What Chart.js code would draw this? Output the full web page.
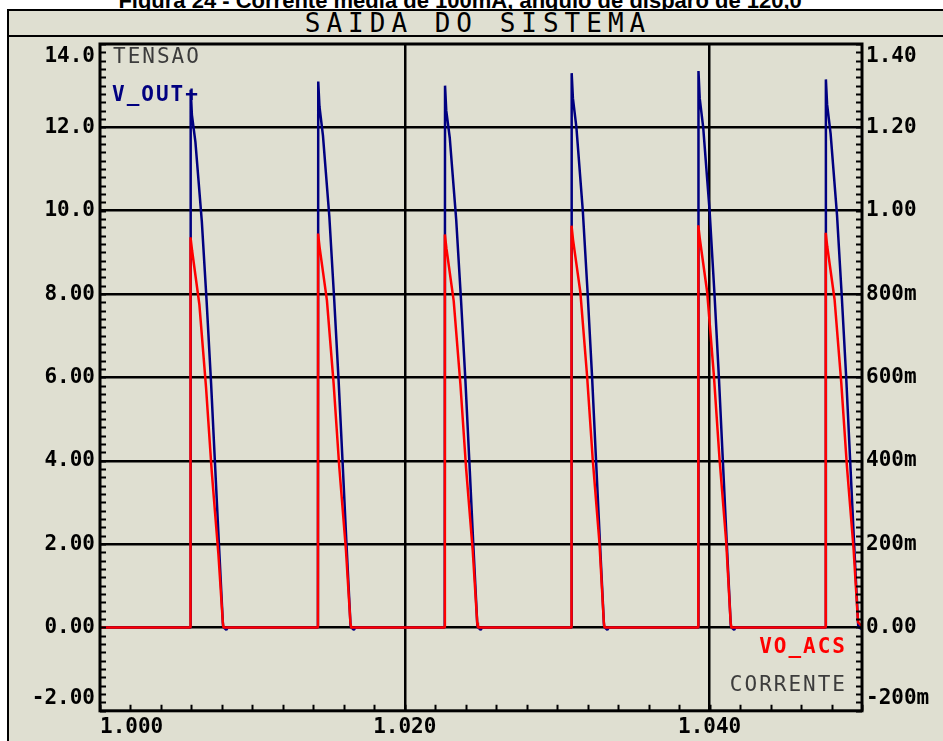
<!DOCTYPE html>
<html>
<head>
<meta charset="utf-8">
<script src="https://cdn.jsdelivr.net/npm/chart.js@4.4.1/dist/chart.umd.min.js"></script>
<style>
  html, body { margin: 0; padding: 0; background: #fff; overflow: hidden; }
  #wrap { position: relative; width: 943px; height: 741px; overflow: hidden; background: #fff; }
  #fig { position: absolute; left: -7px; top: -12px; width: 943px; text-align: center; line-height: 22px;
         font: bold 22px "Liberation Sans", Arial, sans-serif; color: #000; white-space: nowrap; }
  #frame { position: absolute; left: 7px; top: 9px; width: 950px; height: 750px; background: #dfdfd1;
           border: 2px solid #000; box-sizing: border-box; }
  #head { position: absolute; left: 7px; top: 9px; width: 950px; height: 28px; box-sizing: border-box;
          border-bottom: 2px solid #000; text-align: center; padding-left: 6px; padding-right: 14px;
          font: 26px "DejaVu Sans Mono", monospace; letter-spacing: 6px; line-height: 28px; color: #000; }
  #c { position: absolute; left: 0; top: 0; }
</style>
</head>
<body>
<div id="wrap">
  <div id="fig">Figura 24 - Corrente média de 100mA, ângulo de disparo de 120,0°</div>
  <div id="frame"></div>
  <div id="head">SAIDA DO SISTEMA</div>
  <canvas id="c" width="943" height="741"></canvas>
</div>
<script>
// tick labels
const timeLabels = ['1.000', '1.020', '1.040'];
const voltLabels = ['-2.00', '0.00', '2.00', '4.00', '6.00', '8.00', '10.0', '12.0', '14.0'];
const ampLabels = ['-200m', '0.00', '200m', '400m', '600m', '800m', '1.00', '1.20', '1.40'];

// V_OUT+ (TENSAO, left axis) - time in s, volts
const voutT = [
  1.00000,
  1.00593, 1.00595, 1.00603, 1.00626, 1.00668, 1.00700, 1.00729, 1.00755, 1.00781, 1.00807, 1.00811, 1.00829, 1.00839,
  1.01430, 1.01432, 1.01440, 1.01463, 1.01505, 1.01537, 1.01566, 1.01592, 1.01618, 1.01644, 1.01648, 1.01666, 1.01676,
  1.02262, 1.02264, 1.02272, 1.02295, 1.02337, 1.02369, 1.02398, 1.02424, 1.02450, 1.02476, 1.02480, 1.02498, 1.02508,
  1.03093, 1.03095, 1.03103, 1.03126, 1.03168, 1.03200, 1.03229, 1.03255, 1.03281, 1.03307, 1.03311, 1.03329, 1.03339,
  1.03925, 1.03927, 1.03935, 1.03958, 1.04000, 1.04032, 1.04061, 1.04087, 1.04113, 1.04139, 1.04143, 1.04161, 1.04171,
  1.04761, 1.04763, 1.04771, 1.04794, 1.04836, 1.04868, 1.04897, 1.04923, 1.04949, 1.04975, 1.04979, 1.05000
];
const voutV = [
  0,
  0, 12.9, 12.3, 11.65, 9.75, 7.8, 5.85, 3.9, 1.95, 0.05, 0, -0.06, 0,
  0, 13.1, 12.5, 11.8, 9.85, 7.85, 5.9, 3.95, 1.95, 0.05, 0, -0.06, 0,
  0, 13.0, 12.4, 11.75, 9.8, 7.85, 5.9, 3.95, 1.95, 0.05, 0, -0.06, 0,
  0, 13.3, 12.7, 12.0, 10.0, 8.0, 6.0, 4.0, 2.0, 0.05, 0, -0.06, 0,
  0, 13.35, 12.7, 12.0, 10.0, 8.0, 6.0, 4.0, 2.0, 0.05, 0, -0.06, 0,
  0, 13.15, 12.55, 11.85, 9.9, 7.9, 5.95, 3.95, 1.95, 0.05, 0, -0.04
];

// VO_ACS (CORRENTE, right axis) - time in s, amperes
const acsT = [
  1.00000,
  1.00593, 1.00594, 1.00604, 1.00652, 1.00696, 1.00733, 1.00777, 1.00806, 1.00811,
  1.01430, 1.01431, 1.01441, 1.01489, 1.01533, 1.01570, 1.01614, 1.01643, 1.01648,
  1.02262, 1.02263, 1.02273, 1.02321, 1.02365, 1.02402, 1.02446, 1.02475, 1.02480,
  1.03093, 1.03094, 1.03104, 1.03152, 1.03196, 1.03233, 1.03277, 1.03306, 1.03311,
  1.03925, 1.03926, 1.03936, 1.03984, 1.04028, 1.04065, 1.04109, 1.04138, 1.04143,
  1.04761, 1.04762, 1.04772, 1.04820, 1.04864, 1.04901, 1.04945, 1.04974, 1.05000
];
const acsI = [
  0,
  0, 0.936, 0.905, 0.775, 0.575, 0.375, 0.175, 0.012, 0,
  0, 0.945, 0.912, 0.785, 0.585, 0.385, 0.185, 0.012, 0,
  0, 0.943, 0.910, 0.783, 0.583, 0.383, 0.183, 0.012, 0,
  0, 0.964, 0.930, 0.804, 0.604, 0.404, 0.204, 0.012, 0,
  0, 0.965, 0.932, 0.805, 0.605, 0.405, 0.205, 0.012, 0,
  0, 0.947, 0.914, 0.787, 0.587, 0.387, 0.187, 0.012, 0.003
];

const BLUE = '#000080';
const RED = '#ff0000';
const TICK_FONT = { family: '"DejaVu Sans Mono", monospace', size: 21, weight: 'bold', lineHeight: 1.2 };

function isMajor(v, step) {
  const r = v / step;
  return Math.abs(r - Math.round(r)) < 1e-6;
}

// plot frame, inward minor ticks and the in-plot labels
const scopePlugin = {
  id: 'scope',
  beforeInit(chart) { chart.ctx.letterSpacing = '1.5px'; },
  afterDatasetsDraw(chart) {
    const { ctx, chartArea: a, scales } = chart;
    ctx.save();
    ctx.strokeStyle = '#000';
    ctx.lineWidth = 2;
    ctx.beginPath();
    scales.y.ticks.forEach(t => {
      const y = Math.round(scales.y.getPixelForValue(t.value)) + 0.5;
      ctx.moveTo(a.left, y); ctx.lineTo(a.left + 6, y);
    });
    scales.y1.ticks.forEach(t => {
      const y = Math.round(scales.y1.getPixelForValue(t.value)) + 0.5;
      ctx.moveTo(a.right - 6, y); ctx.lineTo(a.right, y);
    });
    scales.x.ticks.forEach(t => {
      const x = Math.round(scales.x.getPixelForValue(t.value)) + 0.5;
      ctx.moveTo(x, a.bottom); ctx.lineTo(x, a.bottom - 6);
    });
    ctx.stroke();
    ctx.lineWidth = 3;
    ctx.strokeRect(a.left, a.top, a.right - a.left, a.bottom - a.top);

    ctx.letterSpacing = '2px';
    ctx.textBaseline = 'middle';
    ctx.textAlign = 'left';
    ctx.font = '21px "DejaVu Sans Mono", monospace';
    ctx.fillStyle = '#3c3c3c';
    ctx.fillText('TENSAO', a.left + 13, a.top + 14);
    ctx.font = 'bold 21px "DejaVu Sans Mono", monospace';
    ctx.fillStyle = BLUE;
    ctx.fillText('V_OUT+', a.left + 12, a.top + 52);
    ctx.textAlign = 'right';
    ctx.fillStyle = RED;
    ctx.fillText('VO_ACS', a.right - 15, a.bottom - 63);
    ctx.font = '21px "DejaVu Sans Mono", monospace';
    ctx.fillStyle = '#3c3c3c';
    ctx.fillText('CORRENTE', a.right - 15, a.bottom - 25);
    ctx.restore();
  }
};

new Chart(document.getElementById('c'), {
  type: 'line',
  data: {
    datasets: [
      {
        label: 'V_OUT+',
        data: voutT.map((t, i) => ({ x: t, y: voutV[i] })),
        yAxisID: 'y',
        borderColor: BLUE,
        borderWidth: 2.5,
        borderJoinStyle: 'bevel',
        pointRadius: 0,
        tension: 0,
        order: 1
      },
      {
        label: 'VO_ACS',
        data: acsT.map((t, i) => ({ x: t, y: acsI[i] })),
        yAxisID: 'y1',
        borderColor: RED,
        borderWidth: 2.5,
        borderJoinStyle: 'bevel',
        pointRadius: 0,
        tension: 0,
        order: 0
      }
    ]
  },
  options: {
    responsive: false,
    animation: false,
    devicePixelRatio: 1,
    layout: { padding: { top: 44, left: 0, right: 0, bottom: 0 } },
    plugins: { legend: { display: false }, tooltip: { enabled: false } },
    scales: {
      x: {
        type: 'linear',
        min: 1.0, max: 1.05,
        afterFit: s => { s.height = 30; },
        border: { display: false },
        grid: {
          drawTicks: false,
          lineWidth: 2.5,
          color: c => {
            const v = c.tick.value;
            return (isMajor(v - 1, 0.02) && v > 1.001 && v < 1.049) ? '#000' : 'rgba(0,0,0,0)';
          }
        },
        ticks: {
          stepSize: 0.002,
          autoSkip: false,
          maxRotation: 0,
          align: 'inner',
          padding: 4,
          color: '#000',
          font: TICK_FONT,
          callback: v => isMajor(v - 1, 0.02) ? (timeLabels[Math.round((v - 1) / 0.02)] || '') : ''
        }
      },
      y: {
        position: 'left',
        min: -2, max: 14,
        afterFit: s => { s.width = 100; },
        border: { display: false },
        grid: {
          drawTicks: false,
          lineWidth: 2.5,
          color: c => {
            const v = c.tick.value;
            return (isMajor(v, 2) && v > -1.9 && v < 13.9) ? '#000' : 'rgba(0,0,0,0)';
          }
        },
        ticks: {
          stepSize: 0.2,
          autoSkip: false,
          padding: 5,
          color: '#000',
          font: TICK_FONT,
          callback: v => {
            if (!isMajor(v, 2)) return '';
            const i = Math.round((v + 2) / 2);
            const s = voltLabels[i];
            if (i === voltLabels.length - 1) return ['', s];
            if (i === 0) return [s, ''];
            return s;
          }
        }
      },
      y1: {
        position: 'right',
        min: -0.2, max: 1.4,
        afterFit: s => { s.width = 81; },
        border: { display: false },
        grid: { drawOnChartArea: false, drawTicks: false },
        ticks: {
          stepSize: 0.02,
          autoSkip: false,
          padding: 4,
          color: '#000',
          font: TICK_FONT,
          callback: v => {
            if (!isMajor(v, 0.2)) return '';
            const i = Math.round((v + 0.2) / 0.2);
            const s = ampLabels[i];
            if (i === ampLabels.length - 1) return ['', s];
            if (i === 0) return [s, ''];
            return s;
          }
        }
      }
    }
  },
  plugins: [scopePlugin]
});
</script>
</body>
</html>
